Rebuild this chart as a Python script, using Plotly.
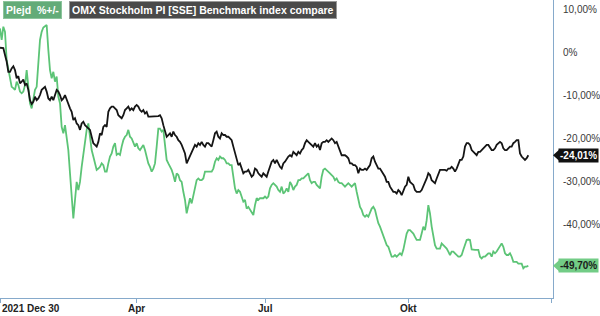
import plotly.graph_objects as go

# OMX Stockholm PI (benchmark), % change since 2021 Dec 30
omx = [
    1.0, 0.9, 0.9, -0.7, -2.2, -4.6, -4.6, -3.8, -3.3, -4.2, -6.1, -5.6, -7.3, -6.9, -6.4, -7.7, -7.3, -8.8, -11.2, -12.1,
    -11.6, -10.4, -11.2, -10.8, -10.0, -8.8, -8.4, -8.1, -9.2, -10.8, -11.2, -10.4, -11.2, -10.0, -8.8, -9.2, -10.0, -11.2,
    -10.8, -10.0, -11.2, -11.9, -13.1, -13.9, -15.8, -15.4, -16.6, -17.0, -18.1, -16.6, -16.2, -17.0, -17.4, -17.8, -18.1,
    -19.7, -21.2, -21.6, -22.0, -20.9, -18.9, -19.3, -17.4,
    -17.0, -17.4, -13.9, -13.1, -12.7, -12.7, -13.1, -13.5, -14.7, -15.0, -15.4, -14.7, -13.5, -13.1, -12.7, -13.5, -13.1,
    -13.5, -12.7, -12.3, -12.7, -13.5, -13.9, -13.5, -14.3, -13.9, -15.0, -15.0, -15.0, -15.0, -15.0, -15.0, -14.9, -14.7,
    -15.4, -17.0, -18.5, -19.7, -19.3, -18.9, -19.7, -18.5, -19.3, -19.7, -20.5, -20.9, -21.6, -22.8, -23.6, -25.9, -25.1,
    -24.3, -23.2, -22.8, -21.6, -22.0, -21.2, -21.6, -20.9, -21.6, -22.0, -21.2, -21.2,
    -21.6, -22.0, -20.5, -18.9, -18.5, -19.7, -20.1, -18.9, -19.3, -19.3, -19.7, -19.7, -20.1, -20.5, -22.0, -23.6, -25.1,
    -26.3, -25.9, -27.1, -28.2, -27.8, -27.8, -27.4, -28.2, -29.0, -28.6, -27.1, -27.4, -28.2, -28.6, -29.0, -28.2, -28.6,
    -29.0, -27.8, -26.7, -25.5, -25.1, -25.9, -25.1, -25.9, -26.7, -27.1, -25.9, -25.5, -24.7, -24.3, -24.0, -24.3, -23.2,
    -23.6, -24.0, -23.2, -23.6, -22.8, -22.4, -21.2, -20.5, -20.9, -21.2, -21.6, -22.0,
    -21.2, -22.0, -21.6, -22.8, -21.2, -20.9, -20.9, -20.5, -20.9, -20.5, -20.1, -20.5, -21.2, -20.9, -22.0, -23.2, -24.0,
    -24.0, -24.0, -24.3, -24.7, -25.9, -25.9, -26.3, -26.3, -26.7, -28.2, -27.1, -27.4, -27.4, -27.1, -27.4, -26.7, -26.3,
    -24.7, -24.3, -25.5, -26.3, -27.1, -27.1, -27.8, -28.6, -29.0, -30.2, -30.2, -31.3, -32.1, -32.5, -32.5, -32.9, -32.1,
    -32.5, -33.3, -32.1, -31.3, -30.9, -29.0, -30.2, -30.5, -30.9, -32.1, -32.5, -32.5,
    -32.5, -32.1, -31.3, -30.2, -29.4, -28.2, -28.6, -29.8, -30.2, -30.5, -29.4, -28.2, -27.4, -27.4, -27.4, -27.4, -27.6,
    -27.1, -27.1, -26.7, -27.1, -27.8, -27.1, -25.9, -25.1, -25.1, -24.3, -22.0, -21.2, -21.2, -21.6, -22.8, -23.2, -23.6,
    -24.0, -23.2, -23.2, -22.8, -22.4, -22.0, -21.6, -21.6, -22.4, -22.8, -22.8, -22.4, -21.6, -21.2, -20.9, -21.2, -22.4,
    -22.8, -22.8, -22.4, -22.0, -22.0, -21.2, -20.9, -20.5, -20.5, -23.6, -24.3, -24.7, -25.1, -24.7, -24.01,
]

# Plejd, % change since 2021 Dec 30
plejd = [
    5.5, 2.8, 5.9, 4.7, -1.9, -4.2, -6.5, -8.1, -8.4, -8.8, -6.9, -7.7, -9.2, -9.6, -9.2, -7.7, -4.2, -8.8, -11.9, -13.1,
    -11.2, -8.8, -8.1, -3.4, 2.8, 4.7, 5.7, 6.0, 6.3, 0.5, -4.2, -6.1, -4.6, -6.9, -5.7, -10.4, -11.9, -17.4, -18.9, -17.0,
    -19.7, -22.8, -28.2, -34.4, -38.7, -34.4, -30.2, -32.1, -30.2, -26.7, -23.6, -20.5, -18.1, -16.6, -19.7, -22.8, -24.3,
    -25.9, -27.4, -27.1, -26.7, -25.9, -26.3,
    -27.8, -27.8, -25.9, -24.3, -23.6, -22.0, -21.2, -23.9, -23.6, -23.9, -22.0, -20.5, -19.7, -19.3, -18.1, -19.7, -20.1,
    -21.2, -22.0, -21.2, -22.4, -22.8, -22.0, -21.6, -22.8, -24.3, -25.9, -26.7, -27.8, -27.1, -25.9, -22.0, -17.8, -17.8,
    -18.5, -18.1, -21.2, -25.1, -25.9, -26.7, -27.4, -28.6, -30.2, -28.2, -28.6, -29.8, -30.2, -32.5, -34.4, -37.5, -35.6,
    -34.0, -35.2, -33.6, -32.1, -29.8, -29.4, -29.8, -29.8, -29.4, -27.8, -27.8, -27.8,
    -27.8, -27.8, -27.1, -25.5, -24.7, -25.1, -24.3, -24.7, -24.7, -25.1, -25.9, -25.9, -26.3, -26.3, -29.0, -31.7, -32.9,
    -32.1, -32.5, -34.0, -34.8, -34.4, -36.4, -36.0, -36.7, -37.5, -37.9, -35.6, -34.0, -34.4, -34.0, -34.0, -34.0, -33.6,
    -34.0, -33.6, -31.7, -30.9, -30.5, -30.9, -31.3, -32.1, -32.5, -31.3, -32.9, -32.5, -31.7, -32.5, -30.2, -30.9, -32.1,
    -31.3, -30.9, -29.8, -29.8, -29.4, -29.4, -29.0, -28.6, -28.2, -29.8, -30.5, -30.2,
    -30.2, -30.9, -31.3, -31.7, -29.0, -27.4, -27.1, -27.4, -27.8, -28.2, -28.6, -29.0, -29.8, -29.4, -30.2, -30.5, -30.5,
    -30.9, -31.3, -30.9, -30.5, -30.9, -31.3, -30.9, -30.5, -32.5, -34.4, -36.0, -36.7, -37.9, -38.3, -37.9, -38.3, -37.1,
    -36.4, -36.0, -36.7, -38.3, -39.8, -40.6, -41.8, -43.0, -43.7, -44.9, -45.3, -46.4, -47.6, -47.6, -47.2, -47.6, -47.2,
    -46.8, -47.2, -46.0, -44.1, -42.2, -41.4, -41.4, -41.8, -42.2, -43.0, -43.7, -43.7,
    -43.7, -42.2, -40.6, -41.4, -39.1, -35.6, -37.5, -40.6, -42.9, -44.9, -45.7, -45.7, -45.7, -44.5, -44.9, -45.3, -45.7,
    -46.4, -47.2, -46.4, -46.4, -46.8, -47.2, -47.6, -47.6, -47.2, -46.0, -44.9, -43.7, -43.6, -43.7, -45.9, -46.0, -46.0,
    -46.0, -46.0, -47.6, -48.0, -47.6, -47.6, -47.2, -46.8, -46.8, -47.6, -46.4, -46.8, -46.4, -45.7, -45.3, -44.5, -45.3,
    -46.8, -47.2, -47.2, -46.8, -47.6, -48.8, -48.8, -48.8, -49.2, -49.2, -49.2, -50.3, -49.9, -49.9, -49.7,
]

x_tick_pos = [0, 82, 159, 245, 331]
x_tick_labels = ["2021 Dec 30", "Apr", "Jul", "Okt", ""]
y_tick_vals = [10, 0, -10, -20, -30, -40]
y_tick_labels = ["10,00%", "0%", "-10,00%", "-20,00%", "-30,00%", "-40,00%"]

GREEN = "#5cc476"
BLACK = "#151515"
AXIS = "#86aacb"

fig = go.Figure()
fig.add_trace(go.Scatter(x=list(range(len(plejd))), y=plejd, mode="lines",
                         line=dict(color=GREEN, width=1.8), name="Plejd"))
fig.add_trace(go.Scatter(x=list(range(len(omx))), y=omx, mode="lines",
                         line=dict(color=BLACK, width=1.8), name="OMX"))

fig.update_layout(
    width=600, height=316,
    margin=dict(l=0, r=47, t=0, b=18),
    paper_bgcolor="white", plot_bgcolor="white",
    showlegend=False,
    font=dict(family="Liberation Sans, Arial", size=10, color="#444"),
    xaxis=dict(range=[0, 331.8], showgrid=False, zeroline=False,
               showline=True, linecolor=AXIS, linewidth=1,
               tickvals=x_tick_pos, ticktext=["" for _ in x_tick_pos],
               ticks="outside", ticklen=4, tickcolor=AXIS),
    yaxis=dict(range=[-57.2, 12.1], side="right", showgrid=False, zeroline=False,
               showline=True, linecolor=AXIS, linewidth=1,
               tickvals=y_tick_vals, ticktext=y_tick_labels,
               ticks="outside", ticklen=7, tickcolor="rgba(0,0,0,0)",
               tickfont=dict(size=10, color="#3a3a3a")),
)

# x tick labels
for i, (p, t) in enumerate(zip(x_tick_pos, x_tick_labels)):
    if not t:
        continue
    fig.add_annotation(x=p, y=0, xref="x", yref="paper", yanchor="top",
                       xanchor="left" if i == 0 else "center", yshift=-3,
                       text=f"<b>{t}</b>", showarrow=False,
                       font=dict(size=10, color="#222", family="Liberation Sans, Arial"),
                       )

# legend boxes
fig.add_annotation(x=3 / 553, y=1, xref="paper", yref="paper", xanchor="left", yanchor="top",
                   yshift=-1, text="<b>Plejd&nbsp;&nbsp;%+/-</b>", showarrow=False,
                   bgcolor="#63ab78", bordercolor="#8cc49c", borderwidth=1, borderpad=2,
                   font=dict(size=10.5, color="white"))
fig.add_annotation(x=69 / 553, y=1, xref="paper", yref="paper", xanchor="left", yanchor="top",
                   yshift=-1, text="<b>OMX Stockholm PI [SSE] Benchmark index compare</b>", showarrow=False,
                   bgcolor="#4a4a4a", bordercolor="#999999", borderwidth=1, borderpad=2,
                   font=dict(size=10.5, color="white"))

# last-value badges
def badge(val, bg, fg):
    label = f"{val:.2f}%".replace(".", ",")
    fig.add_annotation(x=1, y=val, xref="paper", yref="y", xanchor="left", yanchor="middle",
                       xshift=5, text=f"<b>{label}</b>", showarrow=False,
                       bgcolor=bg, borderpad=1, font=dict(size=10, color=fg))
    d = 1.45
    fig.add_shape(type="path", xref="paper", yref="y",
                  path=f"M 1.0 {val} L 1.0125 {val + d} L 1.0125 {val - d} Z",
                  fillcolor=bg, line=dict(width=0))

badge(omx[-1], "#111111", "white")
badge(plejd[-1], "#72cc86", "#1a1a1a")

fig.write_html("out.html")
